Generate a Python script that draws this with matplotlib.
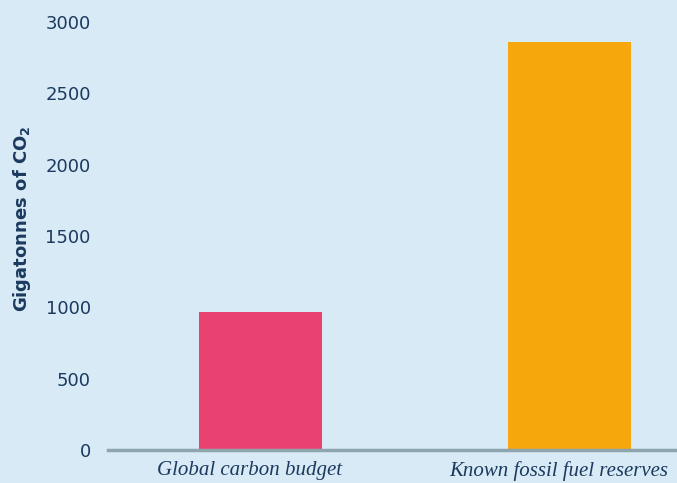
import matplotlib
matplotlib.use("Agg")
import matplotlib.pyplot as plt
import matplotlib.transforms as mtransforms

categories = ["Global carbon budget", "Known fossil fuel reserves"]
values = [970, 2860]
colors = ["#E94170", "#F6A70B"]
yticks = [0, 500, 1000, 1500, 2000, 2500, 3000]

bg = "#D7EAF5"
navy = "#1B3A5E"

fig = plt.figure(figsize=(6.77, 4.83), dpi=100, facecolor=bg)
ax = fig.add_axes([108/677, 33/483, 1 - 108/677, (450-22)/483])
ax.set_facecolor(bg)

x = list(range(len(categories)))
ax.bar(x, values, width=0.398, color=colors, zorder=2)

ax.set_xlim(-0.4935, 1.348)
ax.set_ylim(0, 3000)
ax.set_yticks(yticks)
ax.set_yticklabels([str(t) for t in yticks], fontsize=13, color=navy, family="DejaVu Sans")
ax.set_xticks(x)
ax.set_xticklabels(categories, fontsize=15, color=navy, family="Liberation Serif", style="italic")
ax.tick_params(axis="y", length=0, pad=12.5)
ax.tick_params(axis="x", length=0, pad=8)

offset = mtransforms.ScaledTranslation(-11/100, 0, fig.dpi_scale_trans)
for lab in ax.get_xticklabels():
    lab.set_transform(lab.get_transform() + offset)

for s in ["top", "right", "left"]:
    ax.spines[s].set_visible(False)
ax.spines["bottom"].set_color("#8FA5AD")
ax.spines["bottom"].set_linewidth(2.5)
ax.spines["bottom"].set_zorder(3)

fig.text(22/677, 1 - 219/483, "Gigatonnes of CO$_\\mathbf{2}$", rotation=90, ha="center", va="center",
         fontsize=13, fontweight="bold", color=navy)

fig.savefig("out.png", dpi=100, facecolor=bg)
